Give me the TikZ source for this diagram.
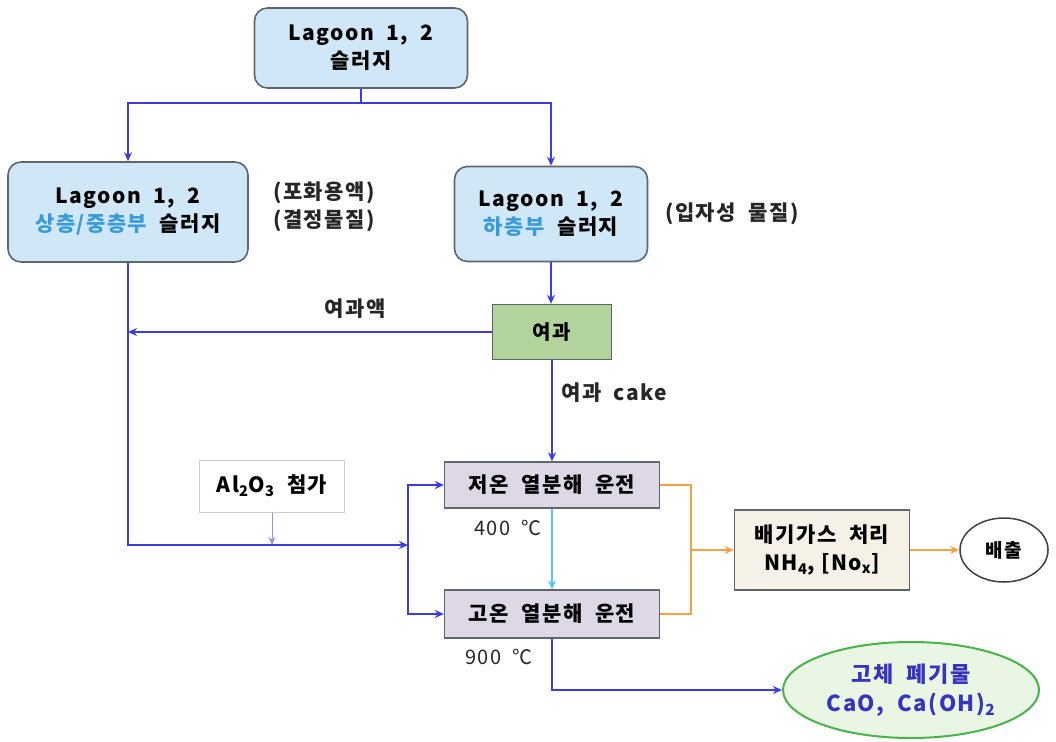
\documentclass[tikz,border=0pt]{standalone}
\usepackage{fontspec}
\setmainfont{Noto Sans CJK KR}[LetterSpace=7]
\usetikzlibrary{arrows.meta,shapes.geometric}
\definecolor{boxblue}{HTML}{CFE7F6}
\definecolor{bordgray}{HTML}{5F666E}
\definecolor{lnblue}{HTML}{3B3BE8}
\definecolor{txtblue}{HTML}{3A9BDC}
\definecolor{filtgreen}{HTML}{B2D49C}
\definecolor{lav}{HTML}{DDD7E6}
\definecolor{orng}{HTML}{F4A23C}
\definecolor{lcyan}{HTML}{5CC6EE}
\definecolor{egreen}{HTML}{45B548}
\definecolor{efill}{HTML}{EAF6E4}
\definecolor{etxt}{HTML}{3535C0}
\definecolor{beige}{HTML}{F6F1E7}
\newcommand\subx[1]{\textsubscript{#1}}
\tikzset{
  lagbox/.style={draw=bordgray, line width=1.6pt, fill=boxblue, rounded corners=13pt, align=center, font=\fontsize{21}{28}\selectfont\bfseries, inner sep=0pt},
  procbox/.style={draw=bordgray, line width=1.3pt, fill=lav, align=center, font=\fontsize{21}{27}\selectfont\bfseries, inner sep=0pt},
  lbl/.style={font=\fontsize{21}{28}\selectfont\bfseries, text=black!85, inner sep=1pt, align=center},
  flow/.style={draw=lnblue, line width=1.4pt, -{Stealth[length=9pt,width=8pt]}},
  flowplain/.style={draw=lnblue, line width=1.4pt},
  oflow/.style={draw=orng, line width=1.4pt},
  tip/.style={-{Stealth[length=9pt,width=8pt]}}
}
\begin{document}
\begin{tikzpicture}[x=1pt,y=-1pt]
\useasboundingbox (0,0) rectangle (1056,741);
% nodes
\node[lagbox, minimum width=213pt, minimum height=80pt] (top) at (361,48) {Lagoon\ \ 1,\ \ 2\\ 슬러지};
\node[lagbox, minimum width=240pt, minimum height=100pt] (left) at (128,212) {Lagoon\ \ 1,\ \ 2\\ \textcolor{txtblue}{상층/중층부}\ \ 슬러지};
\node[lagbox, minimum width=193pt, minimum height=95pt] (right) at (551,214) {Lagoon\ \ 1,\ \ 2\\ \textcolor{txtblue}{하층부}\ \ 슬러지};
\node[lbl] (satur) at (324,207) {(포화용액)\\(결정물질)};
\node[lbl, anchor=west] (part) at (664,214) {(입자성\ \ 물질)};
\node[draw=bordgray, line width=1.3pt, fill=filtgreen, minimum width=119pt, minimum height=55pt, font=\fontsize{20}{26}\selectfont\bfseries, inner sep=0pt] (filt) at (552,332) {여과};
\node[draw=black!20, line width=1pt, fill=white, minimum width=145pt, minimum height=52pt, font=\fontsize{21}{26}\selectfont\bfseries, inner sep=0pt] (al) at (272,486) {Al\subx{2}O\subx{3}\ \ 첨가};
\node[procbox, minimum width=215pt, minimum height=46pt] (low) at (552,485) {저온\ \ 열분해\ \ 운전};
\node[procbox, minimum width=215pt, minimum height=48pt] (high) at (552,614) {고온\ \ 열분해\ \ 운전};
\node[draw=bordgray, line width=1.3pt, fill=beige, minimum width=175pt, minimum height=80pt, align=center, font=\fontsize{21}{28}\selectfont\bfseries, inner sep=0pt] (gas) at (822,550) {배기가스\ \ 처리\\ NH\subx{4},\ [No\subx{x}]};
\node[ellipse, draw=black!75, line width=1.5pt, fill=white, minimum width=88pt, minimum height=64pt, font=\fontsize{19}{24}\selectfont\bfseries, inner sep=0pt] (out) at (1004,550) {배출};
\node[ellipse, draw=egreen, line width=2pt, fill=efill, minimum width=256pt, minimum height=96pt, align=center, text=etxt, font=\fontsize{22}{29}\selectfont\bfseries, inner sep=0pt] (solid) at (911,690) {고체\ \ 폐기물\\ CaO,\ \ Ca(OH)\subx{2}};
% text labels
\node[lbl] (filtrate) at (355,309) {여과액};
\node[lbl, anchor=west] (cake) at (560,393) {여과\ \ cake};
\node[lbl, font=\fontsize{20}{26}\selectfont] (t400) at (508,528) {400\ \ ℃};
\node[lbl, font=\fontsize{20}{26}\selectfont] (t900) at (499,657) {900\ \ ℃};
% coordinates
\coordinate (j1) at (361,103);
\coordinate (jb) at (408,545);
\coordinate (jo) at (691,550);
% connectors
\draw[flowplain] (top.south) -- (j1);
\draw[flow] (j1) -| (left.north);
\draw[flow] (j1) -| (right.north);
\draw[flow] (right.south) -- (right.south |- filt.north);
\draw[flow] (filt.west) -- (filt.west -| left.south);
\draw[flow] (left.south) |- (jb);
\draw[draw=lnblue, line width=2.6pt, tip] (jb) |- (low.west);
\draw[draw=lnblue, line width=2.6pt, tip] (jb) |- (high.west);
\draw[flow] (filt.south) -- (filt.south |- low.north);
\draw[draw=lnblue!55, line width=1pt, -{Stealth[length=8pt,width=7pt]}] (al.south) -- (al.south |- jb);
\draw[draw=lcyan, line width=1.2pt, -{Stealth[length=9pt,width=8pt]}] (low.south) -- (low.south |- high.north);
\draw[oflow] (low.east) -| (jo);
\draw[oflow] (high.east) -| (jo);
\draw[oflow, tip] (jo) -- (gas.west);
\draw[oflow, tip] (gas.east) -- (out.west);
\draw[flow] (high.south) |- (solid.west);
\end{tikzpicture}
\end{document}
